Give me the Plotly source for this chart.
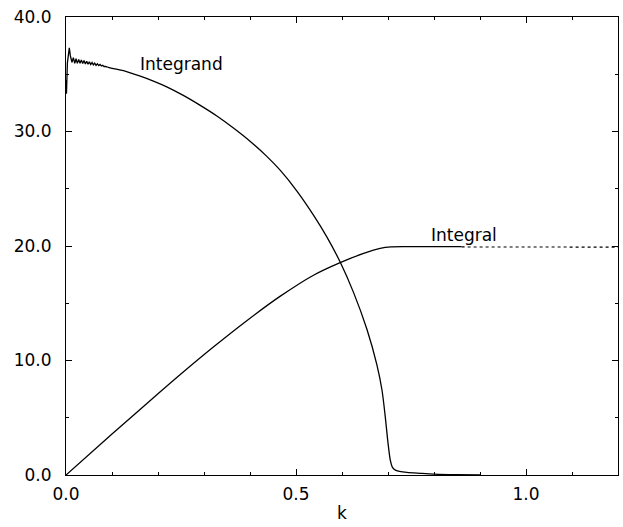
import plotly.graph_objects as go

# Integrand, part 1: sharp spike at k=0 followed by damped ripples
ripple_k = [
    0.0, 0.001, 0.003, 0.005, 0.0072, 0.0095, 0.0130,
    0.0160, 0.0190, 0.0218, 0.0247, 0.0276, 0.0305, 0.0334, 0.0363,
    0.0392, 0.0421, 0.0450, 0.0479, 0.0508, 0.0537, 0.0566, 0.0595,
    0.0624, 0.0653, 0.0682, 0.0711, 0.0740, 0.0769, 0.0798, 0.0827,
    0.0860, 0.0900,
]
ripple_v = [
    34.5, 33.3, 36.0, 37.0, 37.3, 36.6, 36.05,
    36.45, 35.95, 36.35, 35.95, 36.30, 35.95, 36.25, 35.93,
    36.20, 35.90, 36.13, 35.88, 36.08, 35.85, 36.02, 35.82,
    35.97, 35.78, 35.92, 35.76, 35.86, 35.72, 35.78, 35.68,
    35.69, 35.62,
]

# Integrand, part 2: smooth fall to zero near k = 0.7
smooth_k = [
    0.090, 0.100, 0.130, 0.160, 0.190, 0.219, 0.255, 0.291, 0.328, 0.364,
    0.400, 0.436, 0.466, 0.502, 0.538, 0.567, 0.596, 0.625, 0.654, 0.676,
    0.687, 0.694, 0.700, 0.705, 0.710, 0.716, 0.725, 0.741, 0.770, 0.800,
    0.850, 0.900,
]
smooth_v = [
    35.62, 35.52, 35.25, 34.85, 34.4, 33.9, 33.15, 32.3, 31.35, 30.3,
    29.15, 27.85, 26.6, 24.8, 22.7, 20.8, 18.6, 15.95, 12.75, 9.6,
    7.4, 5.1, 2.8, 1.3, 0.65, 0.42, 0.32, 0.23, 0.15, 0.08,
    0.03, 0.01,
]

# Integral: running total, solid up to the plateau then dotted
integral_k = [0.0, 0.1, 0.2, 0.2485, 0.321, 0.393, 0.466, 0.538, 0.596,
              0.647, 0.683, 0.707, 0.74, 0.80, 0.86]
integral_v = [0.0, 3.58, 7.1, 8.78, 11.2, 13.48, 15.62, 17.45, 18.55,
              19.35, 19.8, 19.93, 19.95, 19.95, 19.95]
integral_tail_k = [0.86, 1.0, 1.2]
integral_tail_v = [19.92, 19.9, 19.9]

x_ticks = [0.0, 0.5, 1.0]
y_ticks = [0.0, 10.0, 20.0, 30.0, 40.0]

FONT = "DejaVu Sans"
LINE = dict(color="black", width=1.3)

fig = go.Figure()
fig.add_trace(go.Scatter(x=ripple_k, y=ripple_v, mode="lines", line=LINE))
fig.add_trace(go.Scatter(x=smooth_k, y=smooth_v, mode="lines",
                         line=dict(LINE, shape="spline", smoothing=0.8)))
fig.add_trace(go.Scatter(x=integral_k, y=integral_v, mode="lines",
                         line=dict(LINE, shape="spline", smoothing=0.8)))
fig.add_trace(go.Scatter(x=integral_tail_k, y=integral_tail_v, mode="lines",
                         line=dict(color="black", width=1.1, dash="dot")))

fig.add_annotation(x=0.1565, y=35.9, text="Integrand", showarrow=False,
                   xanchor="left", yanchor="middle",
                   font=dict(family=FONT, size=17, color="black"))
fig.add_annotation(x=0.79, y=20.96, text="Integral", showarrow=False,
                   xanchor="left", yanchor="middle",
                   font=dict(family=FONT, size=17, color="black"))

axis_common = dict(
    showgrid=False, zeroline=False, showline=True, linecolor="black",
    linewidth=1.2, mirror="allticks", ticks="inside", ticklen=6,
    tickwidth=1.2, tickcolor="black", tickformat=".1f",
    tickfont=dict(family=FONT, size=17, color="black"),
)

fig.update_layout(
    width=623, height=527,
    margin=dict(l=66, r=5, t=17, b=52),
    paper_bgcolor="white", plot_bgcolor="white",
    showlegend=False,
    xaxis=dict(range=[0, 1.2], tickvals=x_ticks,
               minor=dict(dtick=0.1, ticks="inside", ticklen=3,
                          tickcolor="black", tickwidth=1),
               title=dict(text="k", font=dict(family=FONT, size=17, color="black"),
                          standoff=4),
               ticklabelstandoff=3,
               **axis_common),
    yaxis=dict(range=[0, 40], tickvals=y_ticks,
               minor=dict(dtick=5, ticks="inside", ticklen=3,
                          tickcolor="black", tickwidth=1),
               ticklabelstandoff=10,
               **axis_common),
)

fig.write_html("out.html")
